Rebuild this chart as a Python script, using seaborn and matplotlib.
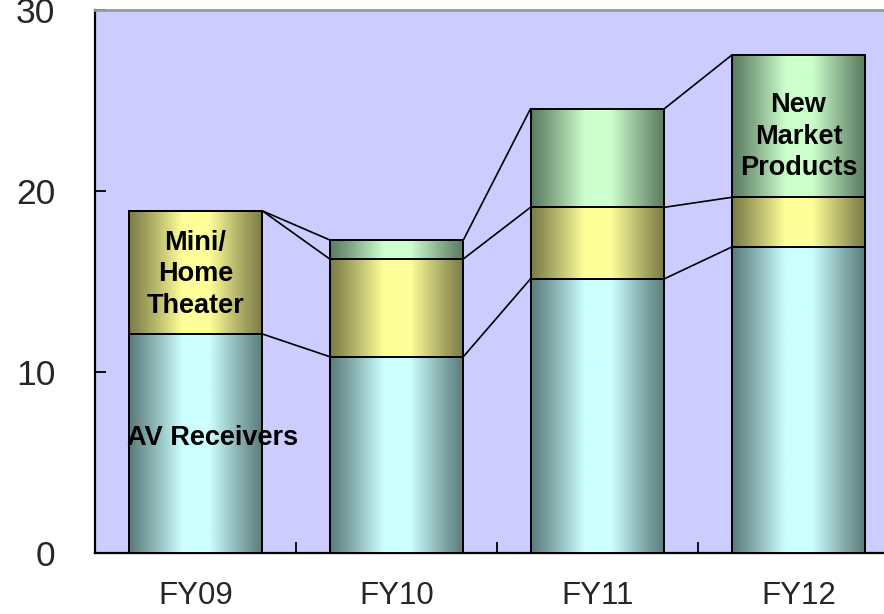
import numpy as np
import pandas as pd
import matplotlib
matplotlib.use("Agg")
import matplotlib.pyplot as plt
import seaborn as sns
from matplotlib.colors import to_rgb

# Sales by product group (stacked), per fiscal year
years = ["FY09", "FY10", "FY11", "FY12"]
av_receivers = [12.1, 10.85, 15.15, 16.9]
mini_home_theater = [6.8, 5.4, 3.95, 2.75]
new_market_products = [0.0, 1.05, 5.45, 7.85]
y_ticks = [0, 10, 20, 30]

sns.set_theme(style="white")
plt.rcParams["font.family"] = ["Liberation Sans", "DejaVu Sans"]

fig = plt.figure(figsize=(8.84, 6.14), dpi=100)
ax = fig.add_axes([95 / 884, 61 / 614, 804 / 884, 543 / 614])
ax.set_facecolor("#CCCCFF")

av = np.array(av_receivers)
mini = np.array(mini_home_theater)
nmp = np.array(new_market_products)

# cumulative tops, tallest layer first so lower layers paint over it
layers = [
    (av + mini + nmp, "#5B7B62", "#CCFFCC"),
    (av + mini, "#7B7B48", "#FFFF99"),
    (av, "#5C7C7C", "#CCFFFF"),
]
BAR_W = 0.666

# horizontal shading profile: dark edges, bright centre
xs = np.linspace(0, 1, 256)
prof = np.clip((0.5 - np.abs(xs - 0.5)) / 0.4, 0, 1)
prof = prof ** 1.1

for k, (tops, edge_c, mid_c) in enumerate(layers):
    df = pd.DataFrame({"year": years, "value": tops})
    n_before = len(ax.patches)
    sns.barplot(data=df, x="year", y="value", order=years, width=BAR_W,
                color=mid_c, edgecolor="black", linewidth=1.4, ax=ax,
                zorder=2 + k, errorbar=None)
    e = np.array(to_rgb(edge_c))
    m = np.array(to_rgb(mid_c))
    grad = (e[None, :] + prof[:, None] * (m - e)[None, :])[None, :, :]
    for p in ax.patches[n_before:]:
        h = p.get_height()
        if h <= 0:
            continue
        x0 = p.get_x()
        w = p.get_width()
        p.set_facecolor("none")
        p.set_zorder(2 + k + 0.5)
        im = ax.imshow(grad, extent=[x0, x0 + w, 0, h], aspect="auto",
                       interpolation="bilinear", zorder=2 + k + 0.3)
        im.set_clip_path(p)

# connectors between consecutive bars at each layer boundary
for tops in [av, av + mini, av + mini + nmp]:
    for i in range(len(years) - 1):
        ax.plot([i + BAR_W / 2, i + 1 - BAR_W / 2], [tops[i], tops[i + 1]],
                color="black", linewidth=1.2, zorder=1.5)

ax.set_xlim(-0.5, 3.5)
ax.set_ylim(0, 30)
ax.set_xlabel("")
ax.set_ylabel("")

ax.set_yticks(y_ticks)
ax.set_yticklabels([str(t) for t in y_ticks])
ax.tick_params(axis="y", direction="in", length=8, width=1.3, color="black",
               labelsize=25.5, pad=28.5, left=True)
ax.set_xticks(range(len(years)))
ax.set_xticklabels(years)
ax.tick_params(axis="x", which="major", length=0, labelsize=22.5, pad=20.5)
ax.set_xticks([0.5, 1.5, 2.5], minor=True)
ax.tick_params(axis="x", which="minor", direction="in", length=8, width=1.3,
               color="black", bottom=True)

for side in ["left", "bottom"]:
    ax.spines[side].set_color("black")
    ax.spines[side].set_linewidth(1.6)
ax.spines["top"].set_color("#999999")
ax.spines["top"].set_linewidth(2)
ax.spines["right"].set_visible(False)

lab_kw = dict(ha="center", va="center", fontsize=19.5, fontweight="bold",
              color="black", zorder=10, linespacing=1.27)
ax.text(0.087, 6.35, "AV Receivers", **lab_kw)
ax.text(0.0, 15.4, "Mini/\nHome\nTheater", **lab_kw)
ax.text(3.0, 23.0, "New\nMarket\nProducts", **lab_kw)

fig.savefig("out.png", dpi=100)
